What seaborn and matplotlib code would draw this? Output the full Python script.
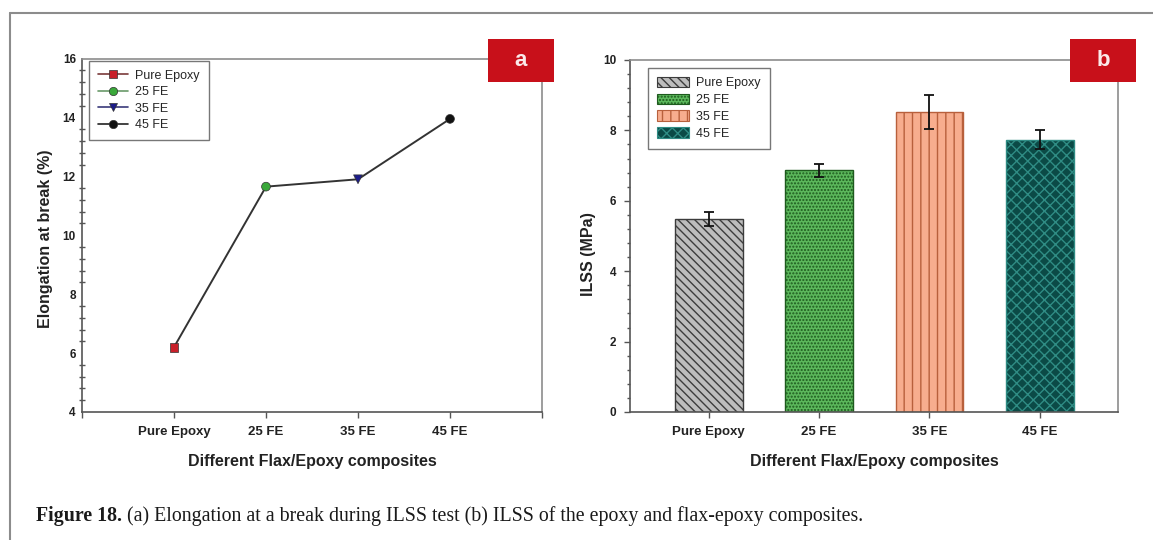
import numpy as np
import pandas as pd
import matplotlib
matplotlib.use('Agg')
import matplotlib.pyplot as plt
import seaborn as sns
from matplotlib.lines import Line2D
from matplotlib.patches import Patch, Rectangle
from matplotlib.ticker import MultipleLocator, FixedLocator

# ---------------- data ----------------
categories = ['Pure Epoxy', '25 FE', '35 FE', '45 FE']
elongation = [6.2, 11.65, 11.9, 13.95]
ilss = [5.49, 6.87, 8.52, 7.73]
ilss_err = [0.20, 0.18, 0.48, 0.27]

# ---------------- styles ----------------
marker_colors = ['#c8202a', '#3aa83a', '#1c1c8a', '#111111']
marker_lines = ['#7a3a3a', '#6a9a6a', '#3a3a7a', '#222222']
marker_shapes = ['s', 'o', 'v', 'o']
bar_faces = ['#bdbdbd', '#5cb85c', '#f7ad8e', '#0b4a46']
bar_hatch_colors = ['#3c3c3c', '#1e5a1e', '#b8603c', '#2f8c84']
bar_hatches = ['\\\\\\\\', '.....', '||', 'xxx']

sns.set_theme(style='white')
plt.rcParams['font.family'] = ['Liberation Sans', 'DejaVu Sans']
plt.rcParams['hatch.linewidth'] = 1.0

W, H = 1153, 540
fig = plt.figure(figsize=(W / 100, H / 100), dpi=100)
fig.patch.set_facecolor('white')


def ax_rect(l, t, r, b):
    return [l / W, 1 - b / H, (r - l) / W, (b - t) / H]


axA = fig.add_axes(ax_rect(82, 58.5, 542, 412))
axB = fig.add_axes(ax_rect(630, 60, 1118, 412))

dark = '#555555'
light = '#8c8c8c'
for ax in (axA, axB):
    for side in ('left', 'bottom'):
        ax.spines[side].set_color(dark)
        ax.spines[side].set_linewidth(1.2)
    for side in ('top', 'right'):
        ax.spines[side].set_color(light)
        ax.spines[side].set_linewidth(1.2)

# ---------------- panel a ----------------
pos = np.arange(len(categories))
dfA = pd.DataFrame({'pos': pos, 'value': elongation, 'group': categories})
sns.lineplot(data=dfA, x='pos', y='value', color='#333333', lw=1.4,
             sort=False, ax=axA, zorder=2)
sns.scatterplot(data=dfA, x='pos', y='value', hue='group', style='group',
                palette=dict(zip(categories, marker_colors)),
                markers=dict(zip(categories, marker_shapes)),
                s=40, edgecolor='#333333', linewidth=0.5, legend=False,
                ax=axA, zorder=3)
axA.set_xlim(-1, 4)
axA.set_ylim(4, 16)
axA.xaxis.set_major_locator(FixedLocator([-1, 0, 1, 2, 3, 4]))
axA.set_xticklabels([''] + categories + [''])
axA.yaxis.set_major_locator(MultipleLocator(2))
axA.yaxis.set_minor_locator(MultipleLocator(0.4))
axA.tick_params(axis='y', which='major', direction='inout', length=7,
                width=1, color=dark, labelsize=8.5, pad=1)
axA.tick_params(axis='y', which='minor', direction='inout', length=4.5,
                width=1, color=dark, left=True)
axA.tick_params(axis='x', which='major', direction='out', length=4,
                width=1, color=dark, labelsize=9.5, pad=6, bottom=True)
plt.setp(axA.get_xticklabels() + axA.get_yticklabels(), fontweight='bold',
         color='#222222')
axA.set_xlabel('Different Flax/Epoxy composites', fontsize=11.5,
               fontweight='bold', color='#222222')
axA.set_ylabel('Elongation at break (%)', fontsize=11.5,
               fontweight='bold', color='#222222')
axA.xaxis.set_label_coords(0.5, -0.118)
axA.yaxis.set_label_coords(-0.063, 0.49)

handlesA = [Line2D([0], [0], color=lc, lw=1.2, marker=m, markersize=6,
                   markerfacecolor=mc, markeredgecolor='#333333',
                   markeredgewidth=0.5)
            for lc, m, mc in zip(marker_lines, marker_shapes, marker_colors)]
legA = axA.legend(handlesA, categories, loc='upper left',
                  bbox_to_anchor=(7 / 460, 1 - 2.5 / 353.5), borderaxespad=0,
                  fontsize=9, frameon=True, fancybox=False, framealpha=1,
                  edgecolor='#777777', borderpad=0.7, labelspacing=0.35,
                  handlelength=2.4, handletextpad=0.6)
legA.get_frame().set_linewidth(1.0)

# ---------------- panel b ----------------
dfB = pd.DataFrame({'group': categories, 'value': ilss})
sns.barplot(data=dfB, x='group', y='value', hue='group',
            palette=dict(zip(categories, bar_faces)), width=0.615,
            errorbar=None, legend=False, saturation=1, ax=axB)
for cont, hc, h in zip(axB.containers, bar_hatch_colors, bar_hatches):
    for p in cont:
        p.set_edgecolor(hc)
        p.set_hatch(h)
        p.set_linewidth(1.0)
axB.errorbar(pos, ilss, yerr=ilss_err, fmt='none', ecolor='#111111',
             elinewidth=1.3, capsize=3.6, capthick=1.3, zorder=5)
axB.set_xlim(-0.715, 3.71)
axB.set_ylim(0, 10)
axB.yaxis.set_major_locator(MultipleLocator(2))
axB.yaxis.set_minor_locator(MultipleLocator(0.4))
axB.tick_params(axis='y', which='major', direction='out', length=4,
                width=1, color=dark, labelsize=8.5, pad=6, left=True)
axB.tick_params(axis='y', which='minor', direction='out', length=2.5,
                width=1, color=dark, left=True)
axB.tick_params(axis='x', which='major', direction='out', length=4,
                width=1, color=dark, labelsize=9.5, pad=6, bottom=True)
plt.setp(axB.get_xticklabels() + axB.get_yticklabels(), fontweight='bold',
         color='#222222')
axB.set_xlabel('Different Flax/Epoxy composites', fontsize=11.5,
               fontweight='bold', color='#222222')
axB.set_ylabel('ILSS (MPa)', fontsize=11.5, fontweight='bold',
               color='#222222')
axB.xaxis.set_label_coords(0.5, -0.118)
axB.yaxis.set_label_coords(-0.070, 0.45)

handlesB = [Patch(facecolor=fc, edgecolor=hc, hatch=h, lw=0.8)
            for fc, hc, h in zip(bar_faces, bar_hatch_colors, bar_hatches)]
legB = axB.legend(handlesB, categories, loc='upper left',
                  bbox_to_anchor=(18 / 488, 1 - 8 / 352), borderaxespad=0,
                  fontsize=9, frameon=True, fancybox=False, framealpha=1,
                  edgecolor='#777777', borderpad=0.7, labelspacing=0.35,
                  handlelength=2.56, handleheight=0.9, handletextpad=0.6)
legB.get_frame().set_linewidth(1.0)

# ---------------- panel tags ----------------
for (l, t, r, b), tag in [((488, 39, 554, 82), 'a'), ((1070, 39, 1136, 82), 'b')]:
    fig.patches.append(Rectangle((l / W, 1 - b / H), (r - l) / W, (b - t) / H,
                                 transform=fig.transFigure,
                                 facecolor='#c8101a', edgecolor='none',
                                 zorder=10))
    fig.text((l + r) / 2 / W, 1 - (t + b) / 2 / H, tag, color='#fbeaea',
             fontsize=16, fontweight='bold', ha='center', va='center',
             zorder=11)

# ---------------- outer frame ----------------
fig.add_artist(Line2D([10 / W, 1], [1 - 13 / H, 1 - 13 / H],
                      transform=fig.transFigure, color='#8c8c8c', lw=1.5))
fig.add_artist(Line2D([10 / W, 10 / W], [1 - 13 / H, 0],
                      transform=fig.transFigure, color='#8c8c8c', lw=1.5))

# ---------------- caption ----------------
serif = ['Liberation Serif', 'DejaVu Serif']
t1 = fig.text(36 / W, 19 / H, 'Figure 18.', fontsize=14.3, fontweight='bold',
              family=serif, va='baseline', color='#1a1a1a')
fig.canvas.draw()
bb = t1.get_window_extent()
fig.text((bb.x1 + 5) / W, 19 / H,
         '(a) Elongation at a break during ILSS test (b) ILSS of the epoxy '
         'and flax-epoxy composites.',
         fontsize=14.3, family=serif, va='baseline', color='#1a1a1a')

fig.savefig('out.png', dpi=100, facecolor='white')
